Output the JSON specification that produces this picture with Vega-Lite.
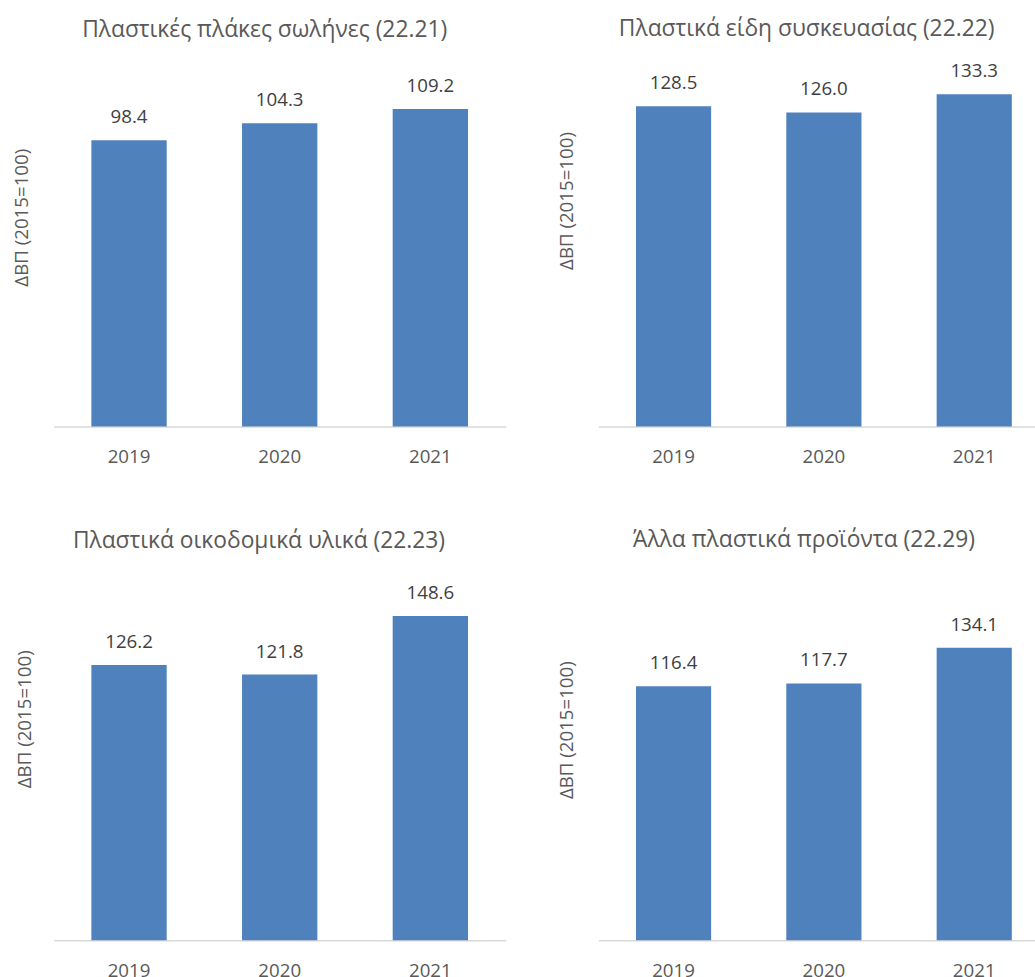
{
  "$schema": "https://vega.github.io/schema/vega-lite/v6.json",
  "padding": {"left": 11.7, "top": 17.5, "right": 0, "bottom": 0},
  "background": "white",
  "data": {"values": [
    {"panel": "p1", "year": "2019", "value": 98.4},
    {"panel": "p1", "year": "2020", "value": 104.3},
    {"panel": "p1", "year": "2021", "value": 109.2},
    {"panel": "p2", "year": "2019", "value": 128.5},
    {"panel": "p2", "year": "2020", "value": 126.0},
    {"panel": "p2", "year": "2021", "value": 133.3},
    {"panel": "p3", "year": "2019", "value": 126.2},
    {"panel": "p3", "year": "2020", "value": 121.8},
    {"panel": "p3", "year": "2021", "value": 148.6},
    {"panel": "p4", "year": "2019", "value": 116.4},
    {"panel": "p4", "year": "2020", "value": 117.7},
    {"panel": "p4", "year": "2021", "value": 134.1}
  ]},
  "columns": 2,
  "spacing": {"row": 164.7, "column": 92.7},
  "bounds": "flush",
  "concat": [
    {
      "width": 452, "height": 349,
      "title": {"text": "Πλαστικές πλάκες σωλήνες (22.21)", "offset": 35, "dx": -15},
      "transform": [{"filter": "datum.panel == 'p1'"}],
      "encoding": {
        "x": {"field": "year", "type": "nominal", "scale": {"paddingInner": 0.5, "paddingOuter": 0.25}, "axis": {"title": null}},
        "y": {"field": "value", "type": "quantitative", "scale": {"domain": [0, 120], "nice": false}, "axis": {"title": "ΔΒΠ (2015=100)", "titleX": -26.3, "titleY": 139.7}}
      },
      "layer": [
        {"mark": {"type": "bar", "color": "#4f81bd"}},
        {"mark": {"type": "text", "dy": -17, "baseline": "alphabetic", "fontSize": 18.7, "color": "#404040", "font": "Open Sans"}, "encoding": {"text": {"field": "value", "type": "quantitative", "format": ".1f"}}}
      ]
    },
    {
      "width": 437.3, "height": 349,
      "title": {"text": "Πλαστικά είδη συσκευασίας (22.22)", "offset": 21, "dx": -10.4},
      "transform": [{"filter": "datum.panel == 'p2'"}],
      "encoding": {
        "x": {"field": "year", "type": "nominal", "scale": {"paddingInner": 0.5, "paddingOuter": 0.25, "range": [0, 451]}, "axis": {"title": null}},
        "y": {"field": "value", "type": "quantitative", "scale": {"domain": [0, 140], "nice": false}, "axis": {"title": "ΔΒΠ (2015=100)", "titleX": -26, "titleY": 123}}
      },
      "layer": [
        {"mark": {"type": "bar", "color": "#4f81bd"}},
        {"mark": {"type": "text", "dy": -17, "baseline": "alphabetic", "fontSize": 18.7, "color": "#404040", "font": "Open Sans"}, "encoding": {"text": {"field": "value", "type": "quantitative", "format": ".1f"}}}
      ]
    },
    {
      "width": 452, "height": 349,
      "title": {"text": "Πλαστικά οικοδομικά υλικά (22.23)", "offset": 31.7, "dx": -20.7},
      "transform": [{"filter": "datum.panel == 'p3'"}],
      "encoding": {
        "x": {"field": "year", "type": "nominal", "scale": {"paddingInner": 0.5, "paddingOuter": 0.25}, "axis": {"title": null}},
        "y": {"field": "value", "type": "quantitative", "scale": {"domain": [0, 160], "nice": false}, "axis": {"title": "ΔΒΠ (2015=100)", "titleX": -23, "titleY": 127.6}}
      },
      "layer": [
        {"mark": {"type": "bar", "color": "#4f81bd"}},
        {"mark": {"type": "text", "dy": -17, "baseline": "alphabetic", "fontSize": 18.7, "color": "#404040", "font": "Open Sans"}, "encoding": {"text": {"field": "value", "type": "quantitative", "format": ".1f"}}}
      ]
    },
    {
      "width": 437.3, "height": 349,
      "title": {"text": "Άλλα πλαστικά προϊόντα (22.29)", "offset": 39.7, "dx": -13},
      "transform": [{"filter": "datum.panel == 'p4'"}],
      "encoding": {
        "x": {"field": "year", "type": "nominal", "scale": {"paddingInner": 0.5, "paddingOuter": 0.25, "range": [0, 451]}, "axis": {"title": null}},
        "y": {"field": "value", "type": "quantitative", "scale": {"domain": [0, 160], "nice": false}, "axis": {"title": "ΔΒΠ (2015=100)", "titleX": -26, "titleY": 138.5}}
      },
      "layer": [
        {"mark": {"type": "bar", "color": "#4f81bd"}},
        {"mark": {"type": "text", "dy": -17, "baseline": "alphabetic", "fontSize": 18.7, "color": "#404040", "font": "Open Sans"}, "encoding": {"text": {"field": "value", "type": "quantitative", "format": ".1f"}}}
      ]
    }
  ],
  "config": {
    "font": "Open Sans",
    "view": {"stroke": null},
    "title": {"font": "Open Sans", "fontSize": 22.8, "fontWeight": "normal", "color": "#595959", "anchor": "middle", "frame": "group", "baseline": "alphabetic"},
    "axisX": {"domain": true, "domainColor": "#d9d9d9", "domainWidth": 1.5, "ticks": false, "tickSize": 0, "grid": false, "labelAngle": 0, "labelFont": "Open Sans", "labelFontSize": 18.7, "labelColor": "#595959", "labelBaseline": "alphabetic", "labelPadding": 36},
    "axisY": {"domain": false, "ticks": false, "tickSize": 0, "labels": false, "grid": false, "titleFont": "Open Sans", "titleFontSize": 18.7, "titleFontWeight": "normal", "titleColor": "#595959", "titleAngle": 270, "titleAlign": "center", "titleBaseline": "alphabetic"}
  }
}
